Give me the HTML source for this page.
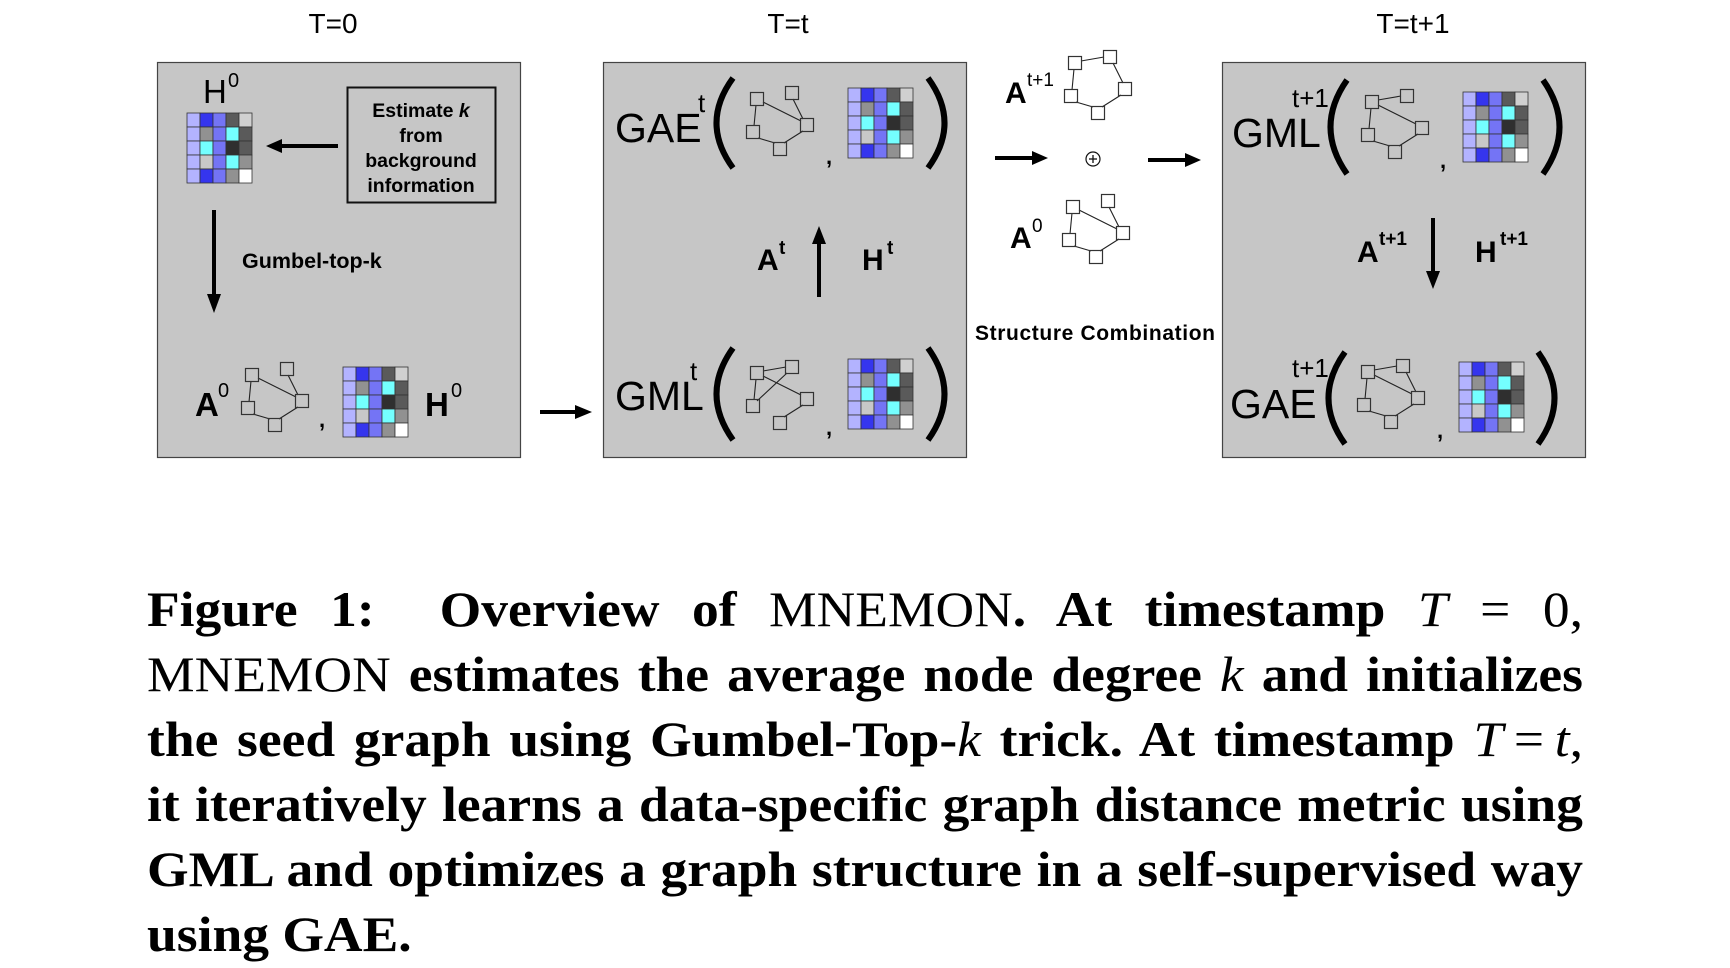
<!DOCTYPE html>
<html><head><meta charset="utf-8"><style>
html,body{margin:0;padding:0;background:#fff;}
body{width:1730px;height:968px;position:relative;overflow:hidden;}
svg{position:absolute;left:0;top:0;}
.cap{position:absolute;left:147px;width:1342px;transform:scaleX(1.07);transform-origin:0 0;font-family:"Liberation Serif",serif;font-size:50px;font-weight:bold;text-align:justify;text-align-last:justify;white-space:nowrap;line-height:65px;height:65px;}
.n{font-weight:normal;}
.i{font-style:italic;font-weight:normal;}
</style></head><body>
<svg width="1730" height="968" viewBox="0 0 1730 968" font-family="Liberation Sans, sans-serif">
<defs>
<g id="mat" stroke="#333" stroke-width="0.8">
<rect x="0" y="0" width="13" height="14" fill="#b3b3ff"/><rect x="13" y="0" width="13" height="14" fill="#3535ee"/><rect x="26" y="0" width="13" height="14" fill="#7474f5"/><rect x="39" y="0" width="13" height="14" fill="#5a5a5a"/><rect x="52" y="0" width="13" height="14" fill="#d0d0d0"/>
<rect x="0" y="14" width="13" height="14" fill="#b3b3ff"/><rect x="13" y="14" width="13" height="14" fill="#919191"/><rect x="26" y="14" width="13" height="14" fill="#7474f5"/><rect x="39" y="14" width="13" height="14" fill="#74ffff"/><rect x="52" y="14" width="13" height="14" fill="#5a5a5a"/>
<rect x="0" y="28" width="13" height="14" fill="#b3b3ff"/><rect x="13" y="28" width="13" height="14" fill="#74ffff"/><rect x="26" y="28" width="13" height="14" fill="#7474f5"/><rect x="39" y="28" width="13" height="14" fill="#2f2f2f"/><rect x="52" y="28" width="13" height="14" fill="#5a5a5a"/>
<rect x="0" y="42" width="13" height="14" fill="#b3b3ff"/><rect x="13" y="42" width="13" height="14" fill="#c8c8c8"/><rect x="26" y="42" width="13" height="14" fill="#7474f5"/><rect x="39" y="42" width="13" height="14" fill="#74ffff"/><rect x="52" y="42" width="13" height="14" fill="#919191"/>
<rect x="0" y="56" width="13" height="14" fill="#b3b3ff"/><rect x="13" y="56" width="13" height="14" fill="#3535ee"/><rect x="26" y="56" width="13" height="14" fill="#7474f5"/><rect x="39" y="56" width="13" height="14" fill="#919191"/><rect x="52" y="56" width="13" height="14" fill="#ffffff"/>
</g>
<g id="nodes" fill="none" stroke="#333" stroke-width="1.2">
<rect x="-6.5" y="-6.5" width="13" height="13"/><rect x="28.5" y="-12.5" width="13" height="13"/><rect x="43.5" y="19.5" width="13" height="13"/><rect x="-10.5" y="26.5" width="13" height="13"/><rect x="16.5" y="43.5" width="13" height="13"/>
</g>
<g id="gA" stroke="#222" stroke-width="1.1"><line x1="-1" y1="6" x2="-3" y2="27"/><line x1="6" y1="3" x2="44" y2="22"/><line x1="36" y1="0" x2="46" y2="20"/><line x1="1" y1="39" x2="18" y2="44"/><line x1="27" y1="44" x2="46" y2="32"/><use href="#nodes"/></g>
<g id="gB" stroke="#222" stroke-width="1.1"><line x1="6" y1="-2" x2="29" y2="-6"/><line x1="6" y1="3" x2="44" y2="22"/><line x1="30" y1="0" x2="0" y2="28"/><line x1="-1" y1="6" x2="-3" y2="27"/><line x1="27" y1="44" x2="46" y2="32"/><use href="#nodes"/></g>
<g id="gC" stroke="#222" stroke-width="1.1"><line x1="6" y1="-2" x2="29" y2="-6"/><line x1="-1" y1="6" x2="-3" y2="27"/><line x1="38" y1="0" x2="48" y2="20"/><line x1="1" y1="39" x2="18" y2="44"/><line x1="27" y1="44" x2="46" y2="32"/><use href="#nodes"/></g>
<g id="gD" stroke="#222" stroke-width="1.1"><line x1="6" y1="-2" x2="29" y2="-6"/><line x1="-1" y1="6" x2="-3" y2="27"/><line x1="6" y1="3" x2="44" y2="22"/><line x1="1" y1="39" x2="18" y2="44"/><line x1="27" y1="44" x2="46" y2="32"/><use href="#nodes"/></g>
<g id="gE" stroke="#222" stroke-width="1.1"><line x1="6" y1="-2" x2="29" y2="-6"/><line x1="-1" y1="6" x2="-3" y2="27"/><line x1="6" y1="3" x2="44" y2="22"/><line x1="38" y1="0" x2="48" y2="20"/><line x1="1" y1="39" x2="18" y2="44"/><line x1="27" y1="44" x2="46" y2="32"/><use href="#nodes"/></g>
</defs>

<text x="333" y="33" font-size="28" text-anchor="middle">T=0</text>
<text x="788" y="33" font-size="28" text-anchor="middle">T=t</text>
<text x="1413" y="33" font-size="28" text-anchor="middle">T=t+1</text>

<rect x="157.5" y="62.5" width="363" height="395" fill="#c6c6c6" stroke="#444" stroke-width="1.2"/>
<rect x="603.5" y="62.5" width="363" height="395" fill="#c6c6c6" stroke="#444" stroke-width="1.2"/>
<rect x="1222.5" y="62.5" width="363" height="395" fill="#c6c6c6" stroke="#444" stroke-width="1.2"/>

<text x="203" y="103" font-size="33">H</text><text x="228" y="87" font-size="20">0</text>
<use href="#mat" x="187" y="113"/>
<line x1="338" y1="146" x2="280" y2="146" stroke="#000" stroke-width="4"/>
<polygon points="266,146 282,139 282,153" fill="#000"/>
<rect x="347.5" y="87.5" width="148" height="115" fill="none" stroke="#111" stroke-width="2"/>
<g font-size="19.5" font-weight="bold" text-anchor="middle">
<text x="421" y="117">Estimate <tspan font-style="italic">k</tspan></text>
<text x="421" y="142">from</text>
<text x="421" y="167">background</text>
<text x="421" y="192">information</text>
</g>
<line x1="214" y1="210" x2="214" y2="296" stroke="#000" stroke-width="4"/>
<polygon points="214,313 207,294 221,294" fill="#000"/>
<text x="242" y="268" font-size="21.5" font-weight="bold">Gumbel-top-k</text>
<text x="195" y="416" font-size="33" font-weight="bold">A</text><text x="218" y="397" font-size="20">0</text>
<use href="#gA" x="252" y="375"/>
<text x="319" y="427" font-size="22" font-weight="bold">,</text>
<use href="#mat" x="343" y="367"/>
<text x="425" y="416" font-size="33" font-weight="bold">H</text><text x="451" y="397" font-size="20">0</text>

<line x1="540" y1="412" x2="578" y2="412" stroke="#000" stroke-width="4"/>
<polygon points="592,412 575,405 575,419" fill="#000"/>

<text x="615" y="142" font-size="41">GAE</text><text x="698" y="112" font-size="26">t</text>
<path d="M733,78 Q700,123 733,168" fill="none" stroke="#000" stroke-width="6"/>
<use href="#gA" x="757" y="99"/>
<text x="826" y="164" font-size="22" font-weight="bold">,</text>
<use href="#mat" x="848" y="88"/>
<path d="M928,78 Q961,123 928,168" fill="none" stroke="#000" stroke-width="6"/>
<text x="757" y="270" font-size="30" font-weight="bold">A</text><text x="779" y="254" font-size="19" font-weight="bold">t</text>
<line x1="819" y1="297" x2="819" y2="240" stroke="#000" stroke-width="4"/>
<polygon points="819,226 812,244 826,244" fill="#000"/>
<text x="862" y="270" font-size="30" font-weight="bold">H</text><text x="887" y="254" font-size="19" font-weight="bold">t</text>
<text x="615" y="410" font-size="41">GML</text><text x="690" y="380" font-size="26">t</text>
<path d="M733,348 Q700,394 733,440" fill="none" stroke="#000" stroke-width="6"/>
<use href="#gB" x="757" y="373"/>
<text x="826" y="435" font-size="22" font-weight="bold">,</text>
<use href="#mat" x="848" y="359"/>
<path d="M928,348 Q961,394 928,440" fill="none" stroke="#000" stroke-width="6"/>

<text x="1005" y="103" font-size="30" font-weight="bold">A</text><text x="1027" y="86" font-size="19">t+1</text>
<use href="#gC" x="1075" y="63"/>
<line x1="995" y1="158" x2="1035" y2="158" stroke="#000" stroke-width="4"/>
<polygon points="1048,158 1032,151 1032,165" fill="#000"/>
<circle cx="1093" cy="159" r="7" fill="none" stroke="#111" stroke-width="1.2"/>
<line x1="1089" y1="159" x2="1097" y2="159" stroke="#111" stroke-width="1.3"/><line x1="1093" y1="155" x2="1093" y2="163" stroke="#111" stroke-width="1.3"/>
<line x1="1148" y1="160" x2="1188" y2="160" stroke="#000" stroke-width="4"/>
<polygon points="1201,160 1185,153 1185,167" fill="#000"/>
<text x="1010" y="248" font-size="30" font-weight="bold">A</text><text x="1032" y="232" font-size="19">0</text>
<use href="#gA" x="1073" y="207"/>
<text x="975" y="340" font-size="21" font-weight="bold" textLength="240">Structure Combination</text>

<text x="1232" y="147" font-size="41">GML</text><text x="1292" y="107" font-size="26">t+1</text>
<path d="M1347,80 Q1314,127 1347,174" fill="none" stroke="#000" stroke-width="6"/>
<use href="#gD" x="1372" y="102"/>
<text x="1440" y="168" font-size="22" font-weight="bold">,</text>
<use href="#mat" x="1463" y="92"/>
<path d="M1543,80 Q1576,127 1543,174" fill="none" stroke="#000" stroke-width="6"/>
<text x="1357" y="262" font-size="30" font-weight="bold">A</text><text x="1379" y="245" font-size="19" font-weight="bold">t+1</text>
<line x1="1433" y1="218" x2="1433" y2="274" stroke="#000" stroke-width="4"/>
<polygon points="1433,289 1426,271 1440,271" fill="#000"/>
<text x="1475" y="262" font-size="30" font-weight="bold">H</text><text x="1500" y="245" font-size="19" font-weight="bold">t+1</text>
<text x="1230" y="418" font-size="41">GAE</text><text x="1292" y="377" font-size="26">t+1</text>
<path d="M1345,352 Q1312,398 1345,444" fill="none" stroke="#000" stroke-width="6"/>
<use href="#gE" x="1368" y="372"/>
<text x="1437" y="438" font-size="22" font-weight="bold">,</text>
<use href="#mat" x="1459" y="362"/>
<path d="M1538,352 Q1571,398 1538,444" fill="none" stroke="#000" stroke-width="6"/>
</svg>

<div class="cap" style="top:577px">Figure 1:&nbsp; Overview of <span class="n">MNEMON</span>. At timestamp <span class="i">T</span> <span class="n">=</span> <span class="n">0,</span></div>
<div class="cap" style="top:642px"><span class="n">MNEMON</span> estimates the average node degree <span class="i">k</span> and initializes</div>
<div class="cap" style="top:707px">the seed graph using Gumbel-Top-<span class="i">k</span> trick. At timestamp <span class="i">T</span><span class="n">&#8201;=&#8201;</span><span class="i">t</span><span class="n">,</span></div>
<div class="cap" style="top:772px">it iteratively learns a data-specific graph distance metric using</div>
<div class="cap" style="top:837px">GML and optimizes a graph structure in a self-supervised way</div>
<div class="cap" style="top:902px;text-align:left;text-align-last:left">using GAE.</div>
</body></html>
